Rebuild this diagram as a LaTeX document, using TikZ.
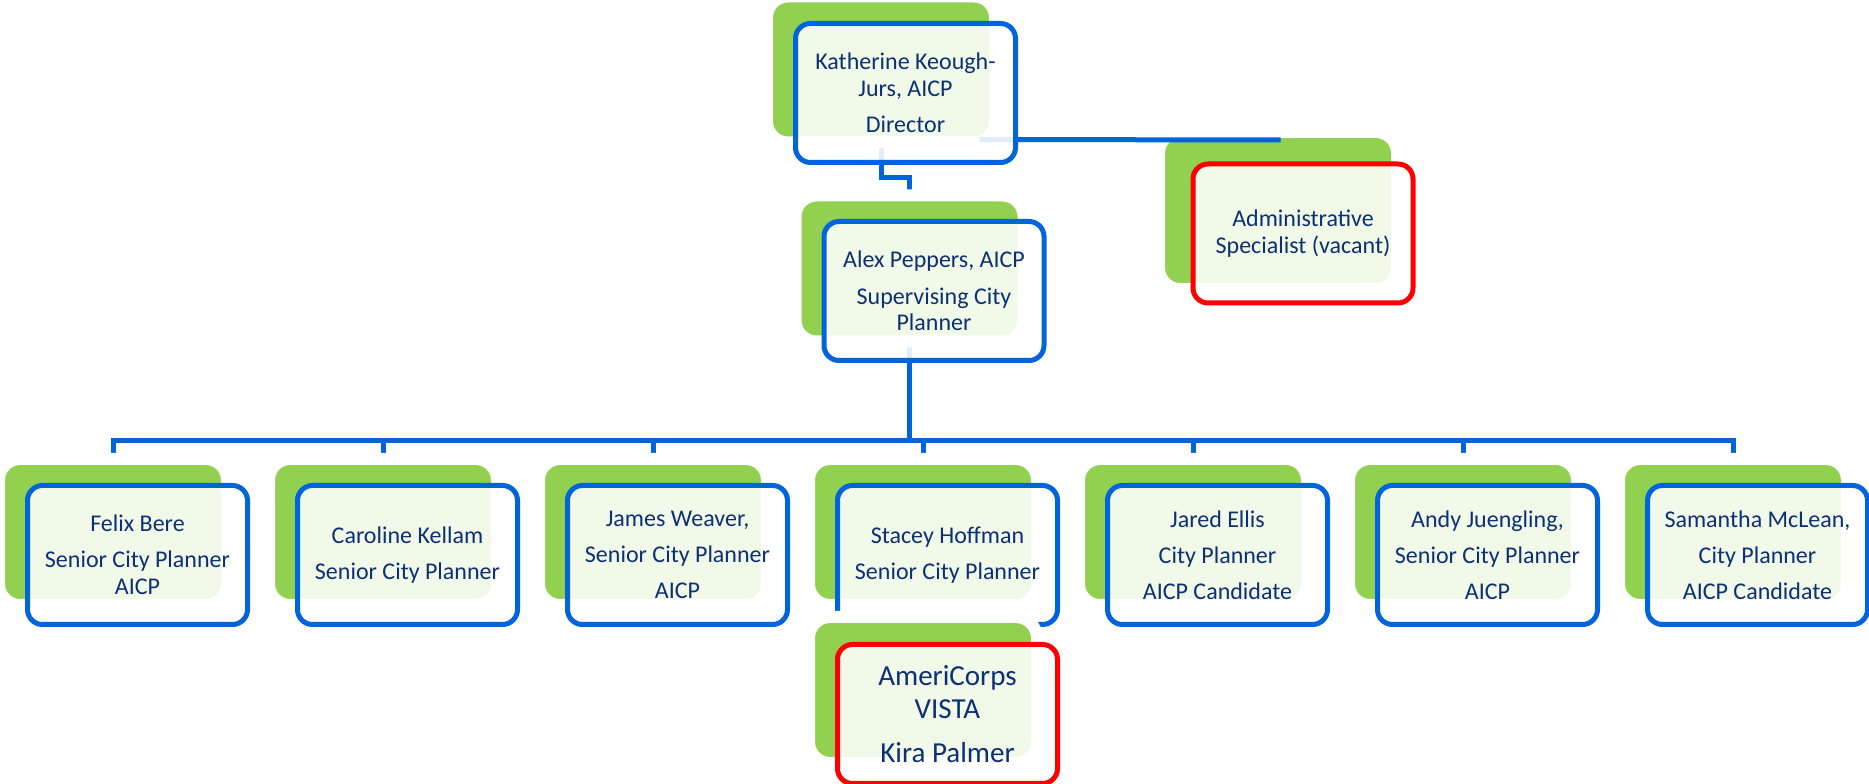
\documentclass[tikz,border=0pt]{standalone}
\usepackage{fontspec}
\setmainfont{Carlito}
\usetikzlibrary{positioning, calc, backgrounds}
\definecolor{orgblue}{RGB}{0,100,220}
\definecolor{orggreen}{RGB}{146,208,80}
\definecolor{orgred}{RGB}{255,0,0}
\definecolor{orgtext}{RGB}{12,48,115}
\tikzset{
  back/.style={draw=white, line width=12pt, fill=orggreen, rounded corners=21pt, minimum width=228pt, minimum height=146pt, inner sep=0pt, outer sep=0pt},
  front/.style={draw=orgblue, line width=5pt, fill=white, fill opacity=0.88, text opacity=1, rounded corners=15pt, minimum width=220pt, minimum height=139pt, inner sep=0pt, outer sep=0pt, align=center, text=orgtext, font=\fontsize{24}{26.5}\selectfont},
  vacant/.style={front, draw=orgred},
  link/.style={draw=orgblue, line width=5pt, line cap=rect}
}

\begin{document}
\begin{tikzpicture}[x=1pt, y=1pt]
    \useasboundingbox (0,0) rectangle (1869,784);

    % director and assistant
    \node[back] (dirbg) at (881,714.5) {};
    \node[back, minimum width=238pt, minimum height=157pt] (admbg) at (1278,573.5) {};
    \draw[link] ($(dirbg.south east)+(-13,3)$) -- ($(admbg.north)+(0,-8)$);
    \node[front] (dir) at ($(dirbg)+(24.5,-23.5)$) {Katherine Keough-\\Jurs, AICP\\[9.5pt]Director};
    \node[vacant] (adm) at ($(admbg)+(25,-23)$) {Administrative\\Specialist (vacant)};

    % supervisor
    \node[back] (supbg) at (909.5,515.5) {};
    \node[front] (sup) at ($(supbg)+(24.5,-22.5)$) {Alex Peppers, AICP\\[10.5pt]Supervising City\\Planner};

    % planners
    \foreach \who/\xx/\txt in {
        felix/113/{Felix Bere\\[9.5pt]Senior City Planner\\AICP},
        caroline/383/{Caroline Kellam\\[9.5pt]Senior City Planner},
        james/653/{James Weaver,\\[9.5pt]Senior City Planner\\[9.5pt]AICP},
        stacey/923/{Stacey Hoffman\\[9.5pt]Senior City Planner},
        jared/1193/{Jared Ellis\\[9.5pt]City Planner\\[9.5pt]AICP Candidate},
        andy/1463/{Andy Juengling,\\[9.5pt]Senior City Planner\\[9.5pt]AICP},
        samantha/1733/{Samantha McLean,\\[9.5pt]City Planner\\[9.5pt]AICP Candidate}}{
      \node[back] (g-\who) at (\xx,252) {};
      \node[front] (\who) at ($(g-\who)+(24.5,-23)$) {\txt};
    }

    % vista under stacey
    \node[back] (vistabg) at (923,94) {};
    \node[vacant, font=\fontsize{29}{33}\selectfont] (vista) at ($(vistabg)+(24.5,-24)$) {AmeriCorps\\VISTA\\[11pt]Kira Palmer};

    % connectors
    \begin{scope}[on background layer]
      \coordinate (bus) at (0,343);
      \draw[link] (dirbg.center) -- (dirbg.center |- 0,606) -| (supbg.north);
      \draw[link] (supbg.center) -- (supbg.center |- bus);
      \draw[link] (g-felix.north |- bus) -- (g-samantha.north |- bus);
      \foreach \who in {felix,caroline,james,stacey,jared,andy,samantha}
        \draw[link] (g-\who.north |- bus) -- (g-\who.north);
    \end{scope}
\end{tikzpicture}
\end{document}
